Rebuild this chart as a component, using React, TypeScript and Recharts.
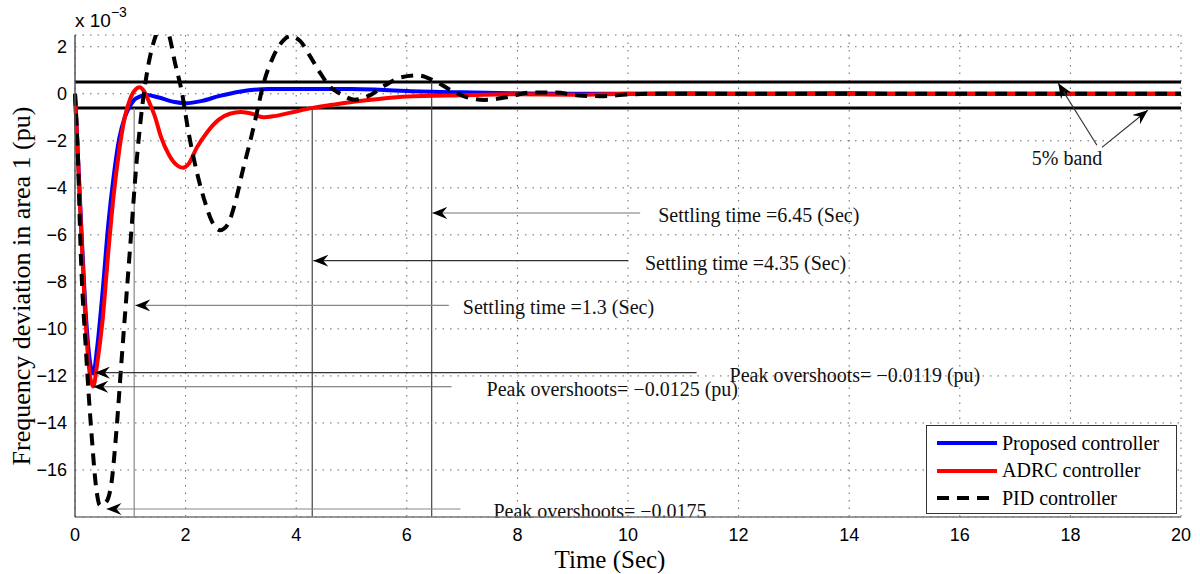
import React from "react";
import { LineChart, Line, XAxis, YAxis, CartesianGrid, ReferenceLine } from "recharts";

// axis ticks (values are in units of 1e-3 pu)
const X_TICKS = [0, 2, 4, 6, 8, 10, 12, 14, 16, 18, 20];
const Y_TICKS = [-16, -14, -12, -10, -8, -6, -4, -2, 0, 2];

// Proposed controller
const PROPOSED_T = [0, 0.05, 0.1, 0.18, 0.26, 0.33, 0.4, 0.5, 0.6, 0.7, 0.8, 0.9, 1.0, 1.1, 1.3, 1.5, 1.8, 2.0, 2.3, 2.6, 3.0, 3.5, 4.0, 5.0, 5.5, 6.0, 7.0, 8.0, 9.0, 12, 16, 20];
const PROPOSED_V = [0, -2.5, -5, -8.8, -11.2, -11.9, -10.8, -8.4, -5.6, -3.5, -1.9, -1.0, -0.5, -0.2, -0.05, -0.15, -0.35, -0.4, -0.3, -0.1, 0.1, 0.2, 0.2, 0.2, 0.17, 0.12, 0.06, 0.02, 0, 0, 0, 0];

// ADRC controller
const ADRC_T = [0, 0.05, 0.1, 0.18, 0.26, 0.33, 0.4, 0.5, 0.6, 0.7, 0.8, 0.9, 1.0, 1.1, 1.17, 1.25, 1.35, 1.45, 1.55, 1.7, 1.85, 1.95, 2.05, 2.2, 2.4, 2.6, 2.8, 3.0, 3.2, 3.4, 3.6, 3.9, 4.3, 4.7, 5.0, 5.5, 6.0, 7.0, 8.0, 9.0, 10, 11, 12, 14, 15, 20];
const ADRC_V = [0, -2.5, -5.2, -9.2, -11.8, -12.45, -11.5, -9.6, -6.8, -4.3, -2.4, -1.0, -0.2, 0.2, 0.28, 0.1, -0.4, -1.0, -1.8, -2.6, -3.05, -3.15, -3.0, -2.3, -1.6, -1.1, -0.85, -0.78, -0.85, -1.0, -0.95, -0.8, -0.6, -0.45, -0.35, -0.22, -0.12, -0.06, -0.02, -0.04, 0, 0.02, 0, 0.03, 0, 0];

// PID controller
const PID_T = [0, 0.05, 0.1, 0.2, 0.3, 0.38, 0.45, 0.55, 0.65, 0.75, 0.84, 0.93, 1.02, 1.11, 1.2, 1.33, 1.45, 1.58, 1.7, 1.81, 1.93, 2.05, 2.2, 2.35, 2.48, 2.62, 2.75, 2.9, 3.04, 3.16, 3.28, 3.4, 3.58, 3.76, 3.89, 4.07, 4.25, 4.43, 4.61, 4.8, 5.05, 5.3, 5.6, 5.9, 6.2, 6.5, 6.8, 7.05, 7.4, 7.8, 8.25, 8.7, 9.1, 9.5, 10, 10.5, 20];
const PID_V = [0, -2.5, -6.5, -11, -14.5, -16.7, -17.5, -17.4, -16.7, -14.3, -11.4, -8.6, -5.8, -3.0, -0.85, 1.27, 2.4, 3.0, 2.5, 1.3, 0.1, -1.6, -3.3, -4.6, -5.45, -5.8, -5.6, -4.6, -3.2, -2.1, -0.9, 0.35, 1.55, 2.25, 2.45, 2.25, 1.6, 0.9, 0.3, 0.0, -0.25, -0.1, 0.35, 0.7, 0.78, 0.55, 0.15, -0.12, -0.26, -0.15, 0.05, 0.05, -0.07, -0.1, -0.03, 0, 0];

// 5% band and settling markers
const BAND = [0.5, -0.6];
const SETTLING_X = [1.07, 4.29, 6.45];
const SETTLING_TOP = [-0.6, -0.6, 0.5];

// annotation arrows: tail -> head, with text at the tail
const ARROWS = [
  { from: [10.22, -5.07], to: [6.46, -5.07], text: "Settling time =6.45 (Sec)", gap: 18, color: "#777" },
  { from: [10.0, -7.1], to: [4.31, -7.1], text: "Settling time =4.35 (Sec)", gap: 17, color: "#333" },
  { from: [6.76, -9.0], to: [1.09, -9.0], text: "Settling time =1.3 (Sec)", gap: 14, color: "#888" },
  { from: [11.24, -11.86], to: [0.36, -11.86], text: "Peak overshoots= \u22120.0119 (pu)", gap: 33, color: "#333" },
  { from: [6.81, -12.46], to: [0.33, -12.46], text: "Peak overshoots= \u22120.0125 (pu)", gap: 35, color: "#666" },
  { from: [6.97, -17.66], to: [0.57, -17.66], text: "Peak overshoots= \u22120.0175", gap: 33, color: "#888" },
  { from: [18.48, -2.19], to: [17.78, 0.45], text: "", gap: 0, color: "#333" },
  { from: [18.57, -2.28], to: [19.4, -0.7], text: "", gap: 0, color: "#333" },
];
const BAND_NOTE = { x: 17.94, y: -2.72, text: "5% band" };

const zip = (t: number[], v: number[]) => t.map((x, i) => ({ t: x, v: v[i] }));
const proposed = zip(PROPOSED_T, PROPOSED_V);
const adrc = zip(ADRC_T, ADRC_V);
const pid = zip(PID_T, PID_V);

const SERIF = "'Liberation Serif', 'Times New Roman', serif";
const SANS = "'Liberation Sans', Arial, sans-serif";

const fmt = (v: number) => (v < 0 ? `\u2212${-v}` : `${v}`);

const arrowShape = (text: string, gap: number, color: string) => (p: any) => (
  <g>
    <line x1={p.x1} y1={p.y1} x2={p.x2} y2={p.y2} stroke={color} strokeWidth={1.2} markerEnd="url(#head)" />
    {text && (
      <text x={p.x1 + gap} y={p.y1 + 2} dominantBaseline="central" fontFamily={SERIF} fontSize={20} fill="#111">
        {text}
      </text>
    )}
  </g>
);

function YLabel({ viewBox }: any) {
  const { x, y, width, height } = viewBox;
  const cy = y + height / 2 + 10;
  return (
    <g>
      <text
        x={21}
        y={cy}
        transform={`rotate(-90, 21, ${cy})`}
        textAnchor="middle"
        dominantBaseline="central"
        fontFamily={SERIF}
        fontSize={26}
        fill="#000"
      >
        Frequency deviation in area 1 (pu)
      </text>
      <text x={x + width} y={y - 8} fontFamily={SANS} fontSize={19} fill="#000">
        x 10
        <tspan dy={-10} fontSize={14}>
          {"\u22123"}
        </tspan>
      </text>
    </g>
  );
}

function XLabel({ viewBox }: any) {
  const { x, width } = viewBox;
  return (
    <text x={x + width / 2 - 18} y={568} textAnchor="middle" fontFamily={SERIF} fontSize={25} fill="#000">
      Time (Sec)
    </text>
  );
}

const LEGEND = [
  { name: "Proposed controller", color: "#0000ff", dash: "" },
  { name: "ADRC controller", color: "#ff0000", dash: "" },
  { name: "PID controller", color: "#000000", dash: "12 8" },
];

export default function App() {
  return (
    <div style={{ position: "absolute", left: 0, top: 0, width: 1200, height: 574, background: "#fff" }}>
      <LineChart width={1200} height={574} margin={{ top: 35, right: 19, left: 0, bottom: 0 }}>
        <defs>
          <marker id="head" markerUnits="userSpaceOnUse" markerWidth={16} markerHeight={12} refX={15} refY={6} orient="auto">
            <path d="M15,6 L0,0 L5,6 L0,12 Z" fill="#000" />
          </marker>
        </defs>
        <CartesianGrid stroke="#666" strokeDasharray="1.5 6" strokeWidth={1} />
        <XAxis
          dataKey="t"
          type="number"
          domain={[0, 20]}
          ticks={X_TICKS}
          height={57}
          tickLine={false}
          tickMargin={5}
          axisLine={{ stroke: "#777", strokeWidth: 1.5 }}
          tick={{ fontFamily: SANS, fontSize: 18, fill: "#000" }}
          label={{ content: XLabel }}
        />
        <YAxis
          type="number"
          domain={[-18, 2.5]}
          allowDataOverflow
          ticks={Y_TICKS}
          width={75}
          tickLine={false}
          tickMargin={2}
          tickFormatter={fmt}
          axisLine={{ stroke: "#555", strokeWidth: 1.5 }}
          tick={{ fontFamily: SANS, fontSize: 18, fill: "#000" }}
          label={{ content: YLabel }}
        />
        <XAxis xAxisId="top" orientation="top" mirror type="number" domain={[0, 20]} ticks={X_TICKS} height={0} tick={false} tickSize={7} stroke="#777" axisLine={{ stroke: "#999", strokeWidth: 1.5 }} />
        <XAxis xAxisId="inb" orientation="bottom" mirror type="number" domain={[0, 20]} ticks={X_TICKS} height={0} tick={false} tickSize={7} stroke="#777" axisLine={false} />
        <YAxis yAxisId="right" orientation="right" mirror type="number" domain={[-18, 2.5]} ticks={Y_TICKS} width={0} tick={false} tickSize={7} stroke="#777" axisLine={{ stroke: "#999", strokeWidth: 1.5 }} />
        <YAxis yAxisId="inl" orientation="left" mirror type="number" domain={[-18, 2.5]} ticks={Y_TICKS} width={0} tick={false} tickSize={7} stroke="#555" axisLine={false} />

        {BAND.map((b) => (
          <ReferenceLine key={`band${b}`} y={b} stroke="#000" strokeWidth={3} />
        ))}
        {SETTLING_X.map((sx, i) => (
          <ReferenceLine
            key={`set${sx}`}
            segment={[{ x: sx, y: SETTLING_TOP[i] }, { x: sx, y: -18 }]}
            stroke={i === 0 ? "#888" : "#444"}
            strokeWidth={1.2}
          />
        ))}

        <Line data={proposed} dataKey="v" type="monotone" stroke="#0000ff" strokeWidth={4} dot={false} isAnimationActive={false} />
        <Line data={adrc} dataKey="v" type="monotone" stroke="#ff0000" strokeWidth={4} dot={false} isAnimationActive={false} />
        <Line data={pid} dataKey="v" type="monotone" stroke="#000000" strokeWidth={4} strokeDasharray="12 8" dot={false} isAnimationActive={false} />

        {ARROWS.map((a, i) => (
          <ReferenceLine
            key={`arr${i}`}
            segment={[{ x: a.from[0], y: a.from[1] }, { x: a.to[0], y: a.to[1] }]}
            shape={arrowShape(a.text, a.gap, a.color)}
          />
        ))}
        <ReferenceLine
          segment={[{ x: BAND_NOTE.x, y: BAND_NOTE.y }, { x: BAND_NOTE.x, y: BAND_NOTE.y }]}
          shape={(p: any) => (
            <text x={p.x1} y={p.y1} textAnchor="middle" dominantBaseline="central" fontFamily={SERIF} fontSize={20} fill="#111">
              {BAND_NOTE.text}
            </text>
          )}
        />
      </LineChart>

      <div
        style={{
          position: "absolute",
          left: 926,
          top: 425,
          width: 251,
          height: 89,
          border: "1px solid #333",
          background: "#fff",
          boxSizing: "border-box",
          fontFamily: SERIF,
          fontSize: 20,
        }}
      >
        {LEGEND.map((l, i) => (
          <div key={l.name} style={{ position: "absolute", left: 10, top: 5 + i * 27.5, height: 24, display: "flex", alignItems: "center" }}>
            <svg width={60} height={8} style={{ marginRight: 5 }}>
              <line x1={0} y1={4} x2={60} y2={4} stroke={l.color} strokeWidth={4} strokeDasharray={l.dash} />
            </svg>
            <span style={{ color: "#000", whiteSpace: "nowrap" }}>{l.name}</span>
          </div>
        ))}
      </div>
    </div>
  );
}
